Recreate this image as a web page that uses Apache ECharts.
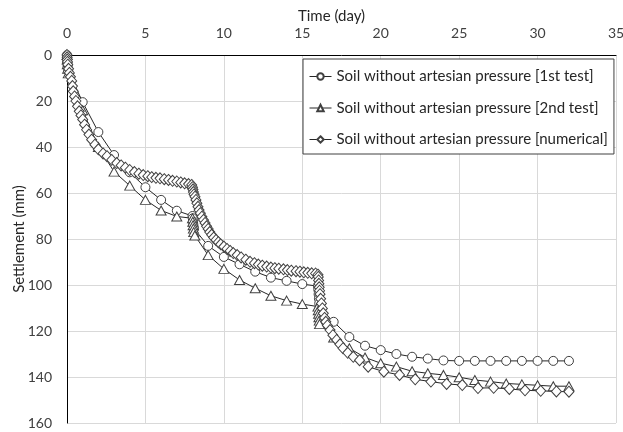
<!DOCTYPE html>
<html>
<head>
<meta charset="utf-8">
<script src="https://cdn.jsdelivr.net/npm/echarts@6/dist/echarts.min.js"></script>
<style>
html,body{margin:0;padding:0;background:#fff;}
#c{width:623px;height:432px;}
</style>
</head>
<body>
<div id="c"></div>
<script>
// ---- data (time in days, settlement in mm) ----
var seriesNames = [
  'Soil without artesian pressure [1st test]',
  'Soil without artesian pressure [2nd test]',
  'Soil without artesian pressure [numerical]'
];
var test1 = [[0,0],[0.01,1.5],[0.02,3],[0.04,5],[0.08,7],[1,20.5],[2,33.5],[3,43.5],[4,51],[5,57.5],[6,63],[7,67.7],
  [8,70],[8.02,71],[8.04,72.5],[8.06,74],[8.1,75.5],[9,83],[10,87.8],[11,91],[12,94.2],[13,96.8],[14,98.2],[15,99.6],
  [16,100.5],[16.02,102],[16.04,104],[16.06,106],[16.08,108],[16.1,110],[17,116],[18,122.6],[19,126.4],[20,128.3],
  [21,130],[22,131.2],[23,132],[24,132.8],[25,133],[26,133],[27,133],[28,133],[29,133],[30,133],[31,133],[32,133]];
var test2 = [[0,0],[0.01,2],[0.02,4],[0.04,6],[0.08,8],[1,24],[2,40],[3,50.7],[4,56.8],[5,63],[6,67.6],[7,70.2],
  [8,71],[8.02,72.5],[8.04,74],[8.06,75.5],[8.08,77],[8.15,78.5],[9,87],[10,93],[11,97.8],[12,101.4],[13,104.7],
  [14,106.8],[15,108.3],[16,109.4],[16.02,111],[16.04,112.5],[16.06,114],[16.08,115.5],[16.1,117],[17,122.8],
  [18,127.5],[19,131.5],[20,134],[21,135.5],[22,137.5],[23,138.4],[24,139.1],[25,140.1],[26,141.3],[27,142],
  [28,142.8],[29,143.2],[30,143.6],[31,144],[32,144]];
var numerical = [[0,0],[0.01,1],[0.02,2],[0.03,3],[0.05,4.2],[0.1,6],[0.15,7.8],[0.22,9.5],[0.3,11.3],[0.35,13.5],
  [0.4,15.8],[0.48,18],[0.57,20],[0.67,22.3],[0.78,24.5],[0.89,26.3],[1.0,28],[1.12,30.3],[1.25,32.5],[1.4,34.6],
  [1.57,36.8],[1.78,39],[2.0,41],[2.3,42.8],[2.55,44],[2.85,45.6],[3.17,47],[3.45,48],[3.72,49],[4.0,50],[4.3,50.9],
  [4.58,51.6],[4.86,52.2],[5.15,52.7],[5.4,53.1],[5.67,53.4],[5.93,53.6],[6.2,54],[6.47,54.3],[6.73,54.7],[7.0,55],
  [7.25,55.4],[7.5,55.8],[7.75,56.1],[7.95,56.5],
  [8.0,57.5],[8.03,58.5],[8.06,59.6],[8.1,60.6],[8.16,61.6],[8.22,63],[8.28,64.5],[8.35,66],[8.42,67.4],[8.5,68.8],
  [8.6,70.3],[8.7,71.7],[8.8,73],[8.9,74.5],[9.0,75.6],[9.1,77],[9.22,78.2],[9.35,79.4],[9.5,80.4],[9.65,81.4],
  [9.8,82.3],[10.0,83.3],[10.2,84.3],[10.4,85.2],[10.6,86.1],[10.85,87],[11.1,88],[11.4,89],[11.67,89.9],[11.95,90.5],
  [12.2,91.1],[12.45,91.6],[12.73,92],[13.0,92.4],[13.25,92.7],[13.5,92.9],[13.8,93.2],[14.05,93.5],[14.3,93.8],
  [14.6,94],[14.85,94.2],[15.1,94.5],[15.35,94.7],[15.6,94.9],[15.85,95],
  [16.0,95.5],[16.02,96.5],[16.04,98],[16.06,99.5],[16.08,101],[16.1,102.5],[16.13,104],[16.17,106],[16.22,108],
  [16.28,110.2],[16.34,112.3],[16.42,114.3],[16.5,116],[16.6,117.6],[16.77,119.6],[16.95,121.8],[17.19,123.9],
  [17.4,125.8],[17.6,127.5],[17.9,129.5],[18.25,131.2],[18.65,132.7],[19.2,135.5],[20.2,137.7],[21.2,139.1],
  [22.2,141],[23.2,142],[24.2,143],[25.2,143.5],[26.2,144.8],[27.2,144.7],[28.2,145.2],[29.2,145.8],[30.2,146],
  [31.2,146.3],[32,146.4]];
var xTicks = {min:0, max:35, step:5};
var yTicks = {min:0, max:160, step:20};

var FONT = 'Lato';
var TXT = '#404040';
function mk(name, data, symbol, size) {
  return {
    name: name, type: 'line', data: data, symbol: symbol, symbolSize: size,
    showAllSymbol: true,
    lineStyle: {color: '#262626', width: 1},
    itemStyle: {color: '#fff', borderColor: '#404040', borderWidth: 1},
    emphasis: {disabled: true},
    animation: false
  };
}
var chart = echarts.init(document.getElementById('c'), null, {renderer: 'canvas'});
chart.setOption({
  backgroundColor: '#fff',
  animation: false,
  grid: {left: 67, right: 7, top: 55, bottom: 9, containLabel: false, outerBoundsMode: 'none'},
  textStyle: {fontFamily: FONT},
  xAxis: {
    type: 'value', position: 'top', min: xTicks.min, max: xTicks.max, interval: xTicks.step,
    name: 'Time (day)', nameLocation: 'middle', nameGap: 31, nameMoveOverlap: false,
    nameTextStyle: {fontFamily: FONT, fontSize: 15, color: '#262626', padding: [0, 20, 0, 0]},
    axisLine: {show: true, lineStyle: {color: '#000', width: 1}},
    axisTick: {show: false},
    axisLabel: {fontFamily: FONT, fontSize: 14, color: TXT, margin: 15},
    splitLine: {show: true, lineStyle: {color: '#d9d9d9', width: 1}}
  },
  yAxis: {
    type: 'value', inverse: true, min: yTicks.min, max: yTicks.max, interval: yTicks.step,
    name: 'Settlement (mm)', nameLocation: 'middle', nameGap: 40, nameRotate: 90, nameMoveOverlap: false,
    nameTextStyle: {fontFamily: FONT, fontSize: 15, color: '#262626'},
    axisLine: {show: true, onZero: false, lineStyle: {color: '#000', width: 1}},
    axisTick: {show: false},
    axisLabel: {fontFamily: FONT, fontSize: 14, color: TXT, margin: 15},
    splitLine: {show: true, lineStyle: {color: '#d9d9d9', width: 1}}
  },
  legend: {
    orient: 'vertical', left: 303, top: 59,
    padding: [9, 6, 6, 6], itemGap: 14.5,
    itemWidth: 22, itemHeight: 8,
    lineStyle: {width: 1},
    borderColor: '#404040', borderWidth: 1, backgroundColor: '#fff',
    textStyle: {fontFamily: FONT, fontSize: 15, color: '#262626', lineHeight: 17},
    data: seriesNames
  },
  series: [
    mk(seriesNames[0], test1, 'circle', 9),
    mk(seriesNames[1], test2, 'triangle', [10, 9]),
    mk(seriesNames[2], numerical, 'diamond', [10, 11])
  ]
});
</script>
</body>
</html>
